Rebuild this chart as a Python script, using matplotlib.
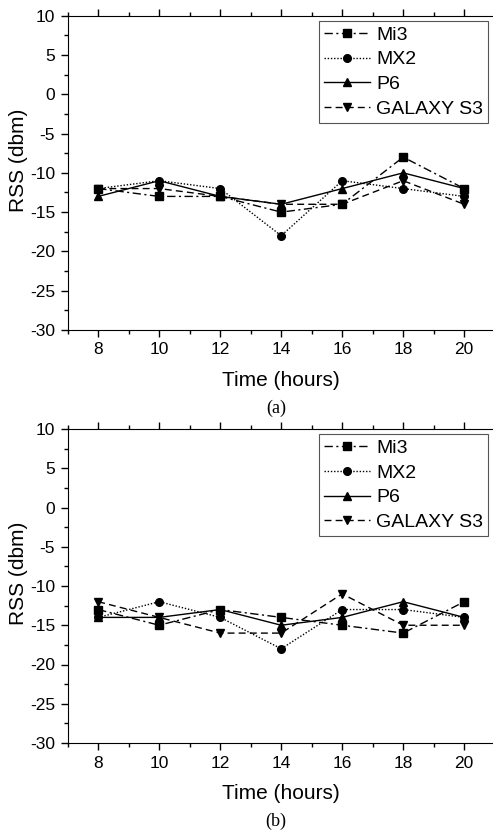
import matplotlib
matplotlib.use('Agg')
import matplotlib.pyplot as plt
from matplotlib.ticker import MultipleLocator

plt.rcParams['font.family'] = 'Liberation Sans'
plt.rcParams['axes.unicode_minus'] = False

hours = [8, 10, 12, 14, 16, 18, 20]
series_names = ['Mi3', 'MX2', 'P6', 'GALAXY S3']

# panel (a)
mi3_a = [-12, -13, -13, -15, -14, -8, -12]
mx2_a = [-12, -11, -12, -18, -11, -12, -13]
p6_a = [-13, -11, -13, -14, -12, -10, -12]
galaxy_a = [-12, -12, -13, -14, -14, -11, -14]

# panel (b)
mi3_b = [-13, -15, -13, -14, -15, -16, -12]
mx2_b = [-14, -12, -14, -18, -13, -13, -14]
p6_b = [-14, -14, -13, -15, -14, -12, -14]
galaxy_b = [-12, -14, -16, -16, -11, -15, -15]

styles = [((0, (6, 2.5, 1.5, 2.5)), 's'), ((0, (1, 1.3)), 'o'),
          ('-', '^'), ((0, (5, 3)), 'v')]

W, H = 493, 839
fig = plt.figure(figsize=(W / 100, H / 100), dpi=100)


def draw_panel(top_px, bottom_px, data, caption):
    left_px = 67.7
    ax = fig.add_axes([left_px / W, 1 - bottom_px / H,
                       14 * 30.5 / W, (bottom_px - top_px) / H])
    for vals, name, (ls, mk) in zip(data, series_names, styles):
        ax.plot(hours, vals, color='black', linestyle=ls, linewidth=1.0,
                marker=mk, markersize=5.5, label=name)
    ax.set_xlim(7, 21)
    ax.set_ylim(-30, 10)
    ax.xaxis.set_major_locator(MultipleLocator(2))
    ax.xaxis.set_minor_locator(MultipleLocator(1))
    ax.yaxis.set_major_locator(MultipleLocator(5))
    ax.yaxis.set_minor_locator(MultipleLocator(2.5))
    ax.tick_params(which='both', direction='out', top=True, right=False,
                   labelsize=12.5, width=1)
    ax.tick_params(which='major', length=5, pad=4)
    ax.tick_params(which='minor', length=3)
    ax.spines['right'].set_visible(False)
    ax.set_xlabel('Time (hours)', fontsize=15, va='center')
    ax.xaxis.set_label_coords(0.4995, -0.162)
    ax.set_ylabel('RSS (dbm)', fontsize=15, va='center')
    ax.yaxis.set_label_coords(-0.115, 0.54)
    leg = ax.legend(loc='upper right', fontsize=14, frameon=True,
                    fancybox=False, edgecolor='#555555', framealpha=1,
                    handlelength=2.4, handletextpad=0.3, borderpad=0.25,
                    labelspacing=0.37, borderaxespad=0,
                    bbox_to_anchor=(0.984, 0.983))
    leg.get_frame().set_linewidth(0.8)
    fig.text(276 / W, 1 - (bottom_px + 78) / H, caption, ha='center',
             va='center', fontsize=13, family='Liberation Serif')
    return ax


draw_panel(15.7, 330, [mi3_a, mx2_a, p6_a, galaxy_a], '(a)')
draw_panel(429, 743, [mi3_b, mx2_b, p6_b, galaxy_b], '(b)')

fig.savefig('out.png', dpi=100)
